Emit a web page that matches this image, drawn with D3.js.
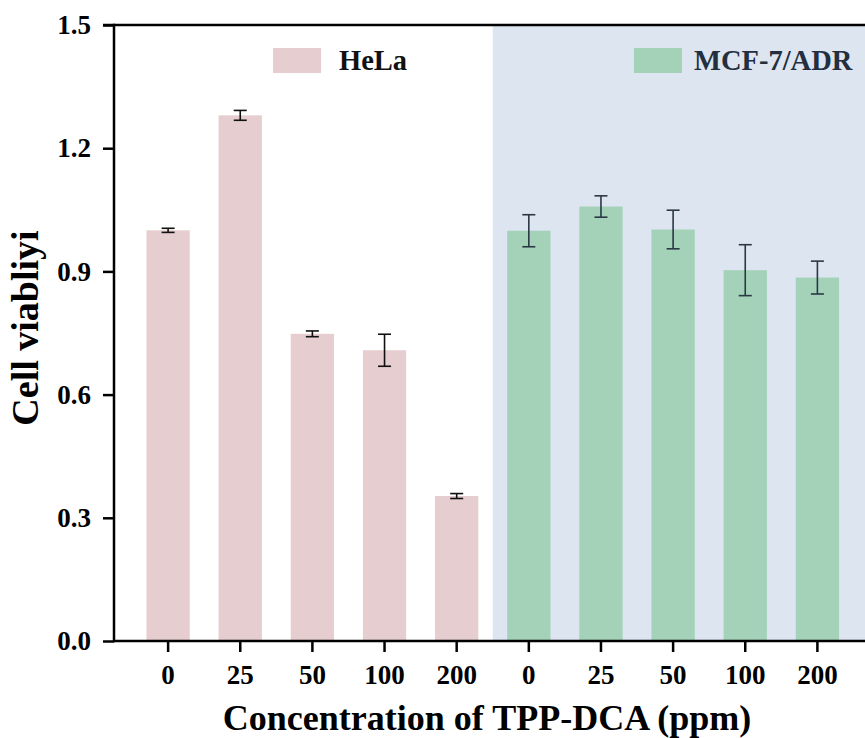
<!DOCTYPE html>
<html>
<head>
<meta charset="utf-8">
<script src="https://cdn.jsdelivr.net/npm/d3@7"></script>
<style>
  html, body { margin: 0; padding: 0; background: #fff; }
  svg { display: block; }
  text { font-family: "Liberation Serif", "Times New Roman", serif; font-weight: bold; }
</style>
</head>
<body>
<div id="chart"></div>
<script>
// concentrations (ppm), same for both cell lines
const concentrations = ["0", "25", "50", "100", "200"];
const groups = ["HeLa", "MCF-7/ADR"];

const helaMeans = [1.0, 1.28, 0.748, 0.708, 0.353];
const helaErrors = [0.005, 0.012, 0.007, 0.039, 0.006];

const mcfMeans = [0.999, 1.058, 1.002, 0.903, 0.885];
const mcfErrors = [0.039, 0.026, 0.047, 0.062, 0.04];

const yTicks = [0, 0.3, 0.6, 0.9, 1.2, 1.5];

const width = 865, height = 738;
const margin = { top: 25, left: 114, bottom: 641 };

const barColor = { "HeLa": "#e5cdd0", "MCF-7/ADR": "#a3d2b9" };
const errColor = { "HeLa": "#111", "MCF-7/ADR": "#2b3845" };

const rows = [];
groups.forEach((g) => {
  const means = g === "HeLa" ? helaMeans : mcfMeans;
  const errs = g === "HeLa" ? helaErrors : mcfErrors;
  concentrations.forEach((c, i) => {
    rows.push({ key: g + "-" + c, group: g, label: c, value: means[i], err: errs[i] });
  });
});

const svg = d3.select("#chart").append("svg")
  .attr("width", width)
  .attr("height", height);

const x = d3.scaleBand()
  .domain(rows.map((d) => d.key))
  .range([margin.left, 871.5])
  .paddingInner(0.4)
  .paddingOuter(0.45);

const y = d3.scaleLinear()
  .domain([0, 1.5])
  .range([margin.bottom, margin.top]);

// shaded background behind the MCF-7/ADR group
const split = (x(rows[4].key) + x.bandwidth() + x(rows[5].key)) / 2;
svg.append("rect")
  .attr("x", split)
  .attr("y", y(1.5))
  .attr("width", 871.5 - split)
  .attr("height", y(0) - y(1.5))
  .attr("fill", "#dce5f0");

// bars
svg.append("g")
  .selectAll("rect")
  .data(rows)
  .join("rect")
  .attr("x", (d) => x(d.key))
  .attr("y", (d) => y(d.value))
  .attr("width", x.bandwidth())
  .attr("height", (d) => y(0) - y(d.value))
  .attr("fill", (d) => barColor[d.group]);

// error bars
const eb = svg.append("g")
  .selectAll("g")
  .data(rows)
  .join("g")
  .attr("stroke", (d) => errColor[d.group])
  .attr("stroke-width", 1.6);

const cx = (d) => x(d.key) + x.bandwidth() / 2;
eb.append("line")
  .attr("x1", cx).attr("x2", cx)
  .attr("y1", (d) => y(d.value - d.err))
  .attr("y2", (d) => y(d.value + d.err));
eb.append("line")
  .attr("x1", (d) => cx(d) - 6.5).attr("x2", (d) => cx(d) + 6.5)
  .attr("y1", (d) => y(d.value + d.err))
  .attr("y2", (d) => y(d.value + d.err));
eb.append("line")
  .attr("x1", (d) => cx(d) - 6.5).attr("x2", (d) => cx(d) + 6.5)
  .attr("y1", (d) => y(d.value - d.err))
  .attr("y2", (d) => y(d.value - d.err));

// axes
const yAxis = svg.append("g")
  .attr("transform", `translate(${margin.left},0)`)
  .call(d3.axisLeft(y).tickValues(yTicks).tickFormat(d3.format(".1f")).tickSize(11).tickPadding(12));

const xAxis = svg.append("g")
  .attr("transform", `translate(0,${margin.bottom})`)
  .call(d3.axisBottom(x).tickFormat((k) => k.split("-").pop()).tickSize(11).tickPadding(13));

[yAxis, xAxis].forEach((ax) => {
  ax.select(".domain").remove();
  ax.selectAll("line").attr("stroke", "#000").attr("stroke-width", 2.5);
  ax.selectAll("text").attr("fill", "#000").style("font-size", "27px");
});
xAxis.selectAll("text").attr("dy", "0.71em");

// spines
svg.append("line")
  .attr("x1", margin.left).attr("x2", width)
  .attr("y1", y(0)).attr("y2", y(0))
  .attr("stroke", "#000").attr("stroke-width", 2.5);
svg.append("line")
  .attr("x1", margin.left - 11).attr("x2", width)
  .attr("y1", y(1.5)).attr("y2", y(1.5))
  .attr("stroke", "#000").attr("stroke-width", 2.5);
svg.append("line")
  .attr("x1", margin.left).attr("x2", margin.left)
  .attr("y1", y(1.5) - 1.25).attr("y2", y(0) + 1.25)
  .attr("stroke", "#000").attr("stroke-width", 2.5);

// legend
const legend = [
  { name: "HeLa", x: 273, tx: 339, color: barColor["HeLa"], text: "#111" },
  { name: "MCF-7/ADR", x: 634, tx: 694, color: barColor["MCF-7/ADR"], text: "#232f3e" },
];
const lg = svg.append("g").selectAll("g").data(legend).join("g");
lg.append("rect")
  .attr("x", (d) => d.x).attr("y", 48)
  .attr("width", 48).attr("height", 25)
  .attr("fill", (d) => d.color);
lg.append("text")
  .attr("x", (d) => d.tx).attr("y", 70)
  .attr("fill", (d) => d.text)
  .style("font-size", "28.5px")
  .text((d) => d.name);

// axis titles
svg.append("text")
  .attr("x", 487).attr("y", 730)
  .attr("text-anchor", "middle")
  .style("font-size", "36px")
  .text("Concentration of TPP-DCA (ppm)");

svg.append("text")
  .attr("transform", "translate(38,328) rotate(-90)")
  .attr("text-anchor", "middle")
  .style("font-size", "38px")
  .text("Cell viabliyi");
</script>
</body>
</html>
